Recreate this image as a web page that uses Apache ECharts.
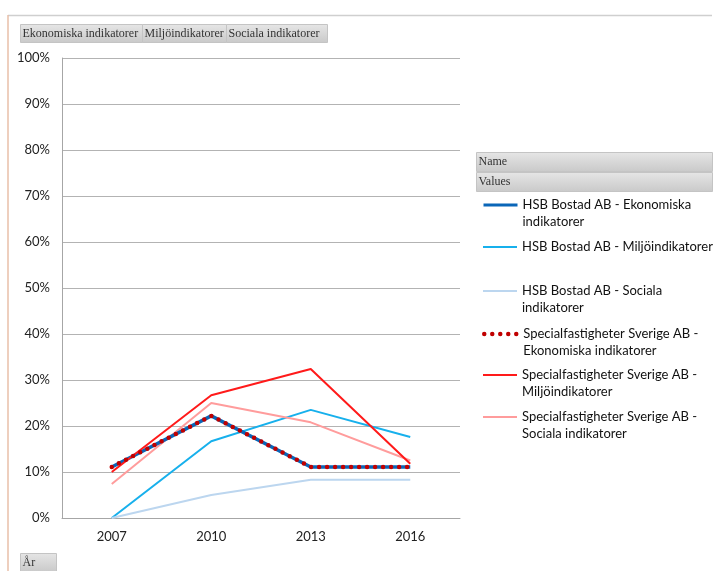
<!DOCTYPE html>
<html>
<head>
<meta charset="utf-8">
<script src="https://cdn.jsdelivr.net/npm/echarts@6/dist/echarts.min.js"></script>
<style>
html,body{margin:0;padding:0;background:#fff;}
#chart{width:713px;height:571px;}
</style>
</head>
<body>
<div id="chart"></div>
<script>
// kategorier (år)
var years = ['2007', '2010', '2013', '2016'];
// serier, andel i procent
var hsbEkonomi = [11.1, 22.2, 11.1, 11.1];
var hsbMiljo = [0, 16.7, 23.5, 17.6];
var hsbSocial = [0, 5.0, 8.3, 8.3];
var sfEkonomi = [11.1, 22.2, 11.1, 11.1];
var sfMiljo = [10.0, 26.7, 32.4, 11.8];
var sfSocial = [7.4, 25.0, 20.8, 12.5];
var seriesNames = [
	'HSB Bostad AB - Ekonomiska indikatorer',
	'HSB Bostad AB - Miljöindikatorer',
	'HSB Bostad AB - Sociala indikatorer',
	'Specialfastigheter Sverige AB - Ekonomiska indikatorer',
	'Specialfastigheter Sverige AB - Miljöindikatorer',
	'Specialfastigheter Sverige AB - Sociala indikatorer'
];
// hur legendtexten bryts
var legendText = [
	'HSB Bostad AB - Ekonomiska\nindikatorer',
	'HSB Bostad AB - Miljöindikatorer',
	'HSB Bostad AB - Sociala\nindikatorer',
	'Specialfastigheter Sverige AB -\nEkonomiska indikatorer',
	'Specialfastigheter Sverige AB -\nMiljöindikatorer',
	'Specialfastigheter Sverige AB -\nSociala indikatorer'
];
var yTicks = [0, 10, 20, 30, 40, 50, 60, 70, 80, 90, 100];

var sansFont = 'Lato, "Open Sans", sans-serif';
var serifFont = '"Liberation Serif", "DejaVu Serif", serif';

var myChart = echarts.init(document.getElementById('chart'));

var lineWidths = [3.5, 2, 2, 4.5, 2, 2];

function line(name, data, color, width, type, z){
	return {
		name: name,
		type: 'line',
		data: data,
		symbol: 'none',
		z: z,
		lineStyle: {color: color, width: width, type: type || 'solid', cap: type ? 'round' : 'butt'},
		itemStyle: {color: color},
		emphasis: {disabled: true}
	};
}

//en legend per serie så att avstånden blir som i originalet
var iconCenters = [205, 247, 291, 334, 375, 417];
var legends = seriesNames.map(function(n, i){
	var twoLines = legendText[i].indexOf('\n') >= 0;
	//tom första rad så att ikonen hamnar vid första textraden
	var txt = twoLines ? ' \n' + legendText[i] : legendText[i];
	return {
		data: [n],
		left: 482,
		top: iconCenters[i] - (twoLines ? 25.5 : 8.5),
		orient: 'vertical',
		itemWidth: 34,
		itemHeight: 14,
		itemGap: 0,
		padding: 0,
		selectedMode: false,
		itemStyle: {opacity: 0},
		lineStyle: {width: i == 3 ? 4.5 : (i == 0 ? 3 : 2)},
		formatter: function(){ return txt; },
		textStyle: {
			fontFamily: sansFont,
			fontSize: 13,
			color: '#111',
			lineHeight: 17
		}
	};
});

var btn = function(x, y, w, h, txt){
	return {
		type: 'group',
		left: x, top: y,
		children: [{
			type: 'rect',
			shape: {x: 0, y: 0, width: w, height: h},
			style: {
				fill: new echarts.graphic.LinearGradient(0, 0, 0, 1, [
					{offset: 0, color: '#e6e6e6'}, {offset: 1, color: '#c9c9c9'}
				]),
				stroke: '#c4c4c4', lineWidth: 1
			}
		}, {
			type: 'text',
			x: 2, y: h / 2,
			style: {text: txt, font: '12px ' + serifFont, fill: '#333', verticalAlign: 'middle'}
		}]
	};
};

var option = {
	animation: false,
	backgroundColor: '#fff',
	grid: {left: 62, right: 253, top: 58, bottom: 53, containLabel: false},
	legend: legends,
	xAxis: {
		type: 'category',
		data: years,
		boundaryGap: true,
		axisLine: {lineStyle: {color: '#a6a6a6', width: 1}},
		axisTick: {show: false},
		axisLabel: {color: '#222', fontFamily: sansFont, fontSize: 13, margin: 12}
	},
	yAxis: {
		type: 'value',
		min: 0, max: 100, interval: 10,
		axisLine: {show: true, lineStyle: {color: '#a6a6a6', width: 1}},
		axisTick: {show: false},
		splitLine: {lineStyle: {color: '#b3b3b3', width: 1}},
		axisLabel: {
			color: '#222', fontFamily: sansFont, fontSize: 13, margin: 12,
			formatter: function(v){ return yTicks.indexOf(v) >= 0 ? v + '%' : ''; }
		}
	},
	series: [
		line(seriesNames[0], hsbEkonomi, '#0a66b8', lineWidths[0], null, 3),
		line(seriesNames[1], hsbMiljo, '#17b0ec', lineWidths[1], null, 2),
		line(seriesNames[2], hsbSocial, '#bcd6ef', lineWidths[2], null, 2),
		line(seriesNames[3], sfEkonomi, '#c00000', lineWidths[3], [0, 8], 5),
		line(seriesNames[4], sfMiljo, '#ff1a1a', lineWidths[4], null, 4),
		line(seriesNames[5], sfSocial, '#ff9c9c', lineWidths[5], null, 2)
	],
	graphic: [
		//ramen runt diagrammet
		{type: 'line', shape: {x1: 8, y1: 15.5, x2: 712, y2: 15.5}, style: {stroke: '#cfcfcf', lineWidth: 1.5}, silent: true},
		{type: 'line', shape: {x1: 8, y1: 15, x2: 8, y2: 571}, style: {stroke: '#e9bfa8', lineWidth: 1.5}, silent: true},
		btn(20, 24, 122, 18, 'Ekonomiska indikatorer'),
		btn(142, 24, 84, 18, 'Miljöindikatorer'),
		btn(226, 24, 101, 18, 'Sociala indikatorer'),
		btn(476, 152, 236, 19, 'Name'),
		btn(476, 172, 236, 19, 'Values'),
		btn(20, 553, 36, 18, 'År')
	]
};
myChart.setOption(option);
</script>
</body>
</html>
